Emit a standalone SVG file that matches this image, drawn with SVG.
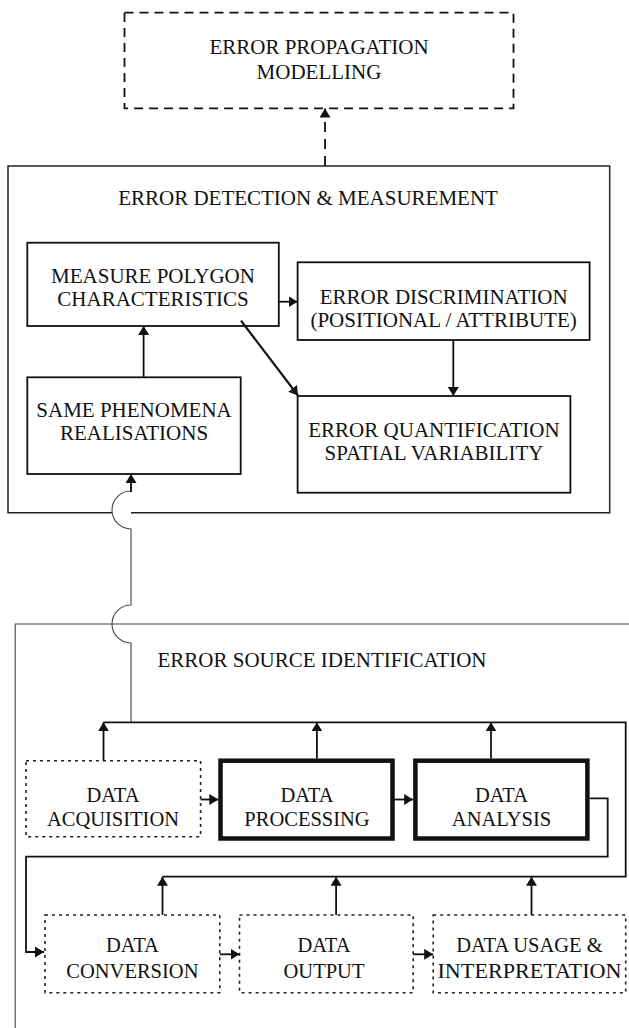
<svg xmlns="http://www.w3.org/2000/svg" width="629" height="1028" viewBox="0 0 629 1028">
  <style>
    text { font-family: "Liberation Serif", "Times New Roman", serif; fill: #111; text-anchor: middle; }
    .t21 { font-size: 21px; }
    .t20 { font-size: 20.5px; }
    .box { fill: none; stroke: #111; stroke-width: 1.8; }
    .thick { fill: none; stroke: #111; stroke-width: 4.5; }
    .dotted { fill: none; stroke: #222; stroke-width: 1.6; stroke-dasharray: 3 4; }
    .dashed { fill: none; stroke: #111; stroke-width: 1.8; stroke-dasharray: 9 6; }
    .frame { fill: none; stroke: #222; stroke-width: 1.5; }
    .thin { fill: none; stroke: #444; stroke-width: 1.1; }
    .link { fill: none; stroke: #111; stroke-width: 1.8; }
    .arrow { marker-end: url(#head); }
  </style>
  <defs>
    <marker id="head" viewBox="0 0 9 11" refX="9" refY="5.5" markerWidth="9" markerHeight="11" markerUnits="userSpaceOnUse" orient="auto">
      <path d="M0,0 L9,5.5 L0,11 z" fill="#111"/>
    </marker>
  </defs>

  <rect width="629" height="1028" fill="#fff"/>

  <!-- container frames -->
  <g id="detection-frame">
    <path class="frame" d="M112,512.7 L8,512.7 L8,166 L609.7,166 L609.7,512.7 L131,512.7"/>
    <text class="t21" x="308" y="205">ERROR DETECTION &amp; MEASUREMENT</text>
  </g>
  <g id="source-frame">
    <path class="thin" d="M15.2,1028 L15.2,624 L629,624"/>
    <text class="t21" x="322" y="667">ERROR SOURCE IDENTIFICATION</text>
  </g>

  <!-- nodes -->
  <g id="propagation">
    <rect class="dashed" x="124.5" y="12.7" width="389" height="95.6"/>
    <text class="t21" x="319" y="54">ERROR PROPAGATION</text>
    <text class="t21" x="319" y="79">MODELLING</text>
  </g>
  <g id="measure">
    <rect class="box" x="27.3" y="242.7" width="251.5" height="83.3"/>
    <text class="t21" x="153" y="283">MEASURE POLYGON</text>
    <text class="t21" x="153" y="306">CHARACTERISTICS</text>
  </g>
  <g id="discrimination">
    <rect class="box" x="297.6" y="262.3" width="292" height="77.7"/>
    <text class="t21" x="443.6" y="304">ERROR DISCRIMINATION</text>
    <text class="t21" x="443.6" y="327">(POSITIONAL / ATTRIBUTE)</text>
  </g>
  <g id="realisations">
    <rect class="box" x="27.3" y="377.3" width="213.4" height="96.7"/>
    <text class="t21" x="134" y="417">SAME PHENOMENA</text>
    <text class="t21" x="134" y="440">REALISATIONS</text>
  </g>
  <g id="quantification">
    <rect class="box" x="297.6" y="396" width="272.8" height="96.7"/>
    <text class="t21" x="434" y="437">ERROR QUANTIFICATION</text>
    <text class="t21" x="434" y="460">SPATIAL VARIABILITY</text>
  </g>
  <g id="acquisition">
    <rect class="dotted" x="26" y="760.7" width="174.6" height="76"/>
    <text class="t20" x="113" y="802">DATA</text>
    <text class="t20" x="113" y="826">ACQUISITION</text>
  </g>
  <g id="processing">
    <rect class="thick" x="220.5" y="760.7" width="172" height="77.8"/>
    <text class="t20" x="307" y="802">DATA</text>
    <text class="t20" x="307" y="826">PROCESSING</text>
  </g>
  <g id="analysis">
    <rect class="thick" x="415.4" y="760.7" width="172" height="77.8"/>
    <text class="t20" x="501.5" y="802">DATA</text>
    <text class="t20" x="501.5" y="826">ANALYSIS</text>
  </g>
  <g id="conversion">
    <rect class="dotted" x="45" y="915" width="174.8" height="77.7"/>
    <text class="t20" x="132.4" y="952">DATA</text>
    <text class="t20" x="132.4" y="978">CONVERSION</text>
  </g>
  <g id="output">
    <rect class="dotted" x="239.5" y="915" width="173.7" height="77.7"/>
    <text class="t20" x="324" y="952">DATA</text>
    <text class="t20" x="324" y="978">OUTPUT</text>
  </g>
  <g id="usage">
    <rect class="dotted" x="433.2" y="915" width="192.5" height="77.7"/>
    <text class="t20" x="529.5" y="952">DATA USAGE &amp;</text>
    <text class="t20" x="529.5" y="978" textLength="184" lengthAdjust="spacingAndGlyphs">INTERPRETATION</text>
  </g>

  <!-- connectors -->
  <g id="connectors">
    <path class="dashed arrow" style="stroke-dasharray: 10 7" d="M325,166 L325,108.5"/>
    <path class="link arrow" d="M278.8,301.7 L297.6,301.7"/>
    <path class="link arrow" d="M453.3,340 L453.3,396"/>
    <path class="link arrow" d="M143.6,377.3 L143.6,326"/>
    <path class="link arrow" style="stroke-width:2.2" d="M241,320.7 L298,395.5"/>
    <!-- feed from the source bus up to the realisations, hopping over both frames -->
    <path class="thin" d="M131,722.3 L131,643 A19,19 0 0,1 131,605 L131,529 A19,19 0 0,1 131,491 L131,482"/>
    <path class="link arrow" d="M131,492 L131,474"/>
    <!-- upper and lower collection buses -->
    <path class="link" d="M103.5,722.3 L625.7,722.3 L625.7,876.7 L162.5,876.7"/>
    <path class="link arrow" d="M103.5,760.7 L103.5,722.3"/>
    <path class="link arrow" d="M316.9,758.5 L316.9,722.3"/>
    <path class="link arrow" d="M491,758.5 L491,722.3"/>
    <path class="link arrow" d="M162.5,915 L162.5,876.7"/>
    <path class="link arrow" d="M336.1,915 L336.1,876.7"/>
    <path class="link arrow" d="M531.5,915 L531.5,876.7"/>
    <!-- process chain -->
    <path class="link arrow" d="M200.6,799.5 L218.3,799.5"/>
    <path class="link arrow" d="M392.5,799.5 L413.2,799.5"/>
    <path class="link arrow" d="M589.6,798.3 L607.7,798.3 L607.7,856.7 L26,856.7 L26,952 L44,952"/>
    <path class="link arrow" d="M219.8,954.3 L239.5,954.3"/>
    <path class="link arrow" d="M413.2,954.3 L433.2,954.3"/>
  </g>
</svg>
